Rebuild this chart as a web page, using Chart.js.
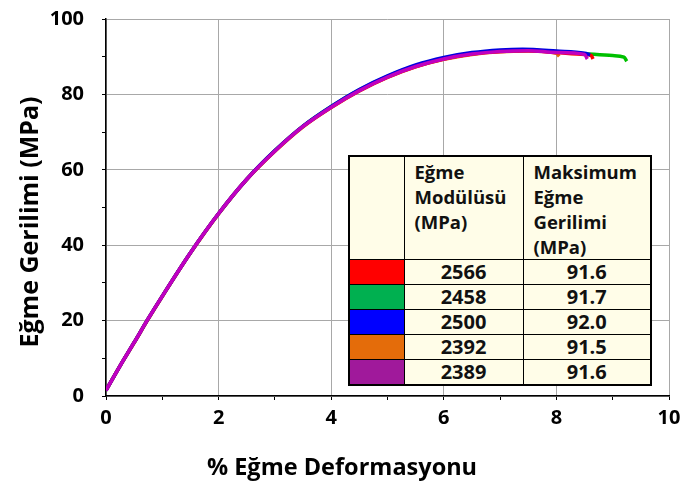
<!DOCTYPE html>
<html>
<head>
<meta charset="utf-8">
<script src="https://cdn.jsdelivr.net/npm/chart.js@4.4.1/dist/chart.umd.min.js"></script>
<style>
  body { margin: 0; background: #fff; }
  #wrap { position: relative; width: 697px; height: 493px; }
  #tbl {
    position: absolute; left: 348px; top: 155px; width: 302px;
    border-collapse: collapse; table-layout: fixed; background: #fffde8;
    font-family: "Open Sans", sans-serif; font-weight: bold; color: #111;
    border: 2px solid #000;
  }
  #tbl td { border: 1.5px solid #000; padding: 0; overflow: hidden; white-space: nowrap; }
  #tbl .hd td { height: 99px; vertical-align: top; font-size: 18.5px; line-height: 25px; padding: 2px 0 0 10px; }
  #tbl .row td { height: 24px; text-align: center; font-size: 20px; line-height: 24px; }
</style>
</head>
<body>
<div id="wrap">
  <canvas id="c" width="697" height="493"></canvas>
  <table id="tbl">
    <colgroup><col style="width:55px"><col style="width:119px"><col style="width:128px"></colgroup>
  </table>
</div>
<script>
// Veriler
const xTicks = [0, 2, 4, 6, 8, 10];
const yTicks = [0, 20, 40, 60, 80, 100];

const strainRed = [0, 0.25, 0.5, 0.75, 1, 1.5, 2, 2.5, 3, 3.5, 4, 4.5, 5, 5.5, 6, 6.5, 7, 7.5, 8, 8.5, 8.62, 8.65];
const stressRed = [1.5, 8.0, 14.2, 20.5, 26.5, 38.0, 48.4, 57.5, 65.0, 71.5, 76.6, 81.0, 84.6, 87.4, 89.4, 90.7, 91.4, 91.6, 91.1, 90.6, 90.3, 89.4];

const strainGreen = [0, 0.25, 0.5, 0.75, 1, 1.5, 2, 2.5, 3, 3.5, 4, 4.5, 5, 5.5, 6, 6.5, 7, 7.5, 8, 8.5, 9, 9.2, 9.25];
const stressGreen = [1.5, 8.0, 14.2, 20.5, 26.5, 38.0, 48.4, 57.5, 65.1, 71.6, 76.8, 81.2, 84.8, 87.6, 89.5, 90.8, 91.5, 91.7, 91.3, 90.8, 90.3, 89.9, 88.8];

const strainBlue = [0, 0.25, 0.5, 0.75, 1, 1.5, 2, 2.5, 3, 3.5, 4, 4.5, 5, 5.5, 6, 6.5, 7, 7.4, 8, 8.5, 8.6];
const stressBlue = [1.5, 8.0, 14.2, 20.5, 26.5, 38.0, 48.4, 57.5, 65.1, 71.6, 76.8, 81.3, 84.9, 87.8, 89.8, 91.1, 91.8, 92.0, 91.5, 90.9, 90.5];

const strainOrange = [0, 0.25, 0.5, 0.75, 1, 1.5, 2, 2.5, 3, 3.5, 4, 4.5, 5, 5.5, 6, 6.5, 7, 7.5, 8, 8.05];
const stressOrange = [1.5, 8.0, 14.1, 20.4, 26.4, 37.9, 48.3, 57.4, 64.9, 71.4, 76.5, 80.9, 84.5, 87.3, 89.3, 90.6, 91.3, 91.5, 90.9, 90.1];

const strainPurple = [0, 0.25, 0.5, 0.75, 1, 1.5, 2, 2.5, 3, 3.5, 4, 4.5, 5, 5.5, 6, 6.5, 7, 7.5, 8, 8.5, 8.55];
const stressPurple = [1.5, 8.0, 14.2, 20.5, 26.5, 38.0, 48.4, 57.5, 65.0, 71.5, 76.6, 81.0, 84.6, 87.4, 89.4, 90.7, 91.4, 91.6, 91.1, 90.6, 89.4];

const tableColors = ['#ff0000', '#00b050', '#0000ff', '#e46c0a', '#a0199b'];
const modulus = ['2566', '2458', '2500', '2392', '2389'];
const maxStress = ['91.6', '91.7', '92.0', '91.5', '91.6'];

function pts(xs, ys) {
    return xs.map((x, i) => ({ x: x, y: ys[i] }));
}

function series(xs, ys, color) {
    return {
        data: pts(xs, ys),
        borderColor: color,
        borderWidth: 3.5,
        pointRadius: 0,
        showLine: true,
        cubicInterpolationMode: 'monotone',
        fill: false
    };
}

const font = '"Open Sans", sans-serif';

// eksen başlıkları (referansta ortalanmamış)
const axisTitles = {
    id: 'axisTitles',
    afterDraw(chart) {
        const c = chart.ctx;
        c.save();
        c.fillStyle = '#000';
        c.textAlign = 'center';
        c.textBaseline = 'middle';
        c.font = 'bold 23.5px ' + font;
        c.fillText('% Eğme Deformasyonu', 342, 468);
        c.translate(31, 222);
        c.rotate(-Math.PI / 2);
        c.font = 'bold 25px ' + font;
        c.fillText('Eğme Gerilimi (MPa)', 0, 0);
        c.restore();
    }
};

new Chart(document.getElementById('c').getContext('2d'), {
    type: 'scatter',
    data: {
        datasets: [
            series(strainPurple, stressPurple, '#c000c0'),
            series(strainBlue, stressBlue, '#0000e0'),
            series(strainRed, stressRed, '#ff0000'),
            series(strainOrange, stressOrange, '#e46c0a'),
            series(strainGreen, stressGreen, '#00c000')
        ]
    },
    options: {
        responsive: false,
        animation: false,
        layout: { padding: { left: 0, right: 28, top: 19, bottom: 0 } },
        plugins: { legend: { display: false }, tooltip: { enabled: false } },
        scales: {
            x: {
                type: 'linear', min: 0, max: 10,
                afterBuildTicks: s => { s.ticks = [0,1,2,3,4,5,6,7,8,9,10].map(v => ({ value: v })); },
                afterFit: s => { s.height = 97; s.paddingLeft = 0; s.paddingRight = 0; },
                border: { color: '#000', width: 1.5 },
                grid: {
                    color: c => (xTicks.includes(c.tick.value) ? '#a8a8a8' : 'rgba(0,0,0,0)'),
                    tickColor: '#000', tickLength: 4, lineWidth: 1
                },
                ticks: {
                    autoSkip: false, maxRotation: 0, padding: 6, color: '#000',
                    font: { family: font, size: 20, weight: 'bold' },
                    callback: v => (xTicks.includes(v) ? String(v) : '')
                }
            },
            y: {
                type: 'linear', min: 0, max: 100,
                afterBuildTicks: s => { s.ticks = [0,10,20,30,40,50,60,70,80,90,100].map(v => ({ value: v })); },
                afterFit: s => { s.width = 106; s.paddingTop = 0; s.paddingBottom = 0; },
                border: { color: '#000', width: 1.5 },
                grid: {
                    color: c => (yTicks.includes(c.tick.value) ? '#a8a8a8' : 'rgba(0,0,0,0)'),
                    tickColor: '#000', tickLength: 4, lineWidth: 1
                },
                ticks: {
                    autoSkip: false, padding: 18, color: '#000',
                    font: { family: font, size: 20, weight: 'bold' },
                    callback: v => (yTicks.includes(v) ? String(v) : '')
                }
            }
        }
    },
    plugins: [axisTitles]
});

// Tablo
const tbl = document.getElementById('tbl');
let html = '<tr class="hd"><td></td>' +
    '<td>Eğme<br>Modülüsü<br>(MPa)</td>' +
    '<td>Maksimum<br>Eğme<br>Gerilimi<br>(MPa)</td></tr>';
tableColors.forEach((col, i) => {
    html += '<tr class="row"><td style="background:' + col + '"></td><td>' + modulus[i] +
        '</td><td>' + maxStress[i] + '</td></tr>';
});
tbl.insertAdjacentHTML('beforeend', html);
</script>
</body>
</html>
